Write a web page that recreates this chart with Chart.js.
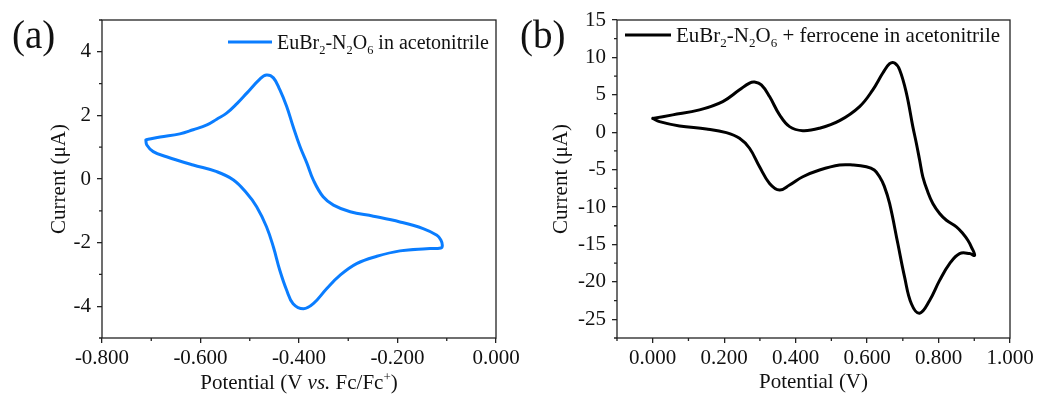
<!DOCTYPE html>
<html>
<head>
<meta charset="utf-8">
<script src="https://cdn.jsdelivr.net/npm/chart.js@4.4.1/dist/chart.umd.min.js"></script>
<style>
  html, body { margin: 0; padding: 0; background: #fff; }
  #wrap { position: relative; width: 1039px; height: 399px; overflow: hidden; font-family: "Liberation Serif", "Times New Roman", serif; }
  .panel { position: absolute; top: 0; height: 399px; }
  #pa { left: 0; width: 530px; }
  #pb { left: 515px; width: 524px; }
  .tag { position: absolute; top: 15px; font-size: 39px; line-height: 1; color: #111; }
</style>
</head>
<body>
<div id="wrap">
  <div class="panel" id="pa"><canvas id="chartA" width="530" height="399"></canvas></div>
  <div class="panel" id="pb"><canvas id="chartB" width="524" height="399"></canvas></div>
  <div class="tag" style="left:12px">(a)</div>
  <div class="tag" style="left:520px">(b)</div>
</div>
<script>
// panel (a): EuBr2-N2O6 in acetonitrile, potential vs Fc/Fc+
const aPotential = [
  -0.711, -0.682, -0.642, -0.615, -0.587, -0.567, -0.547, -0.526, -0.506, -0.479,
  -0.466, -0.452, -0.439, -0.425, -0.412, -0.398, -0.384, -0.371, -0.351, -0.330,
  -0.296, -0.249, -0.195, -0.148, -0.120, -0.112, -0.109, -0.112, -0.141, -0.195,
  -0.242, -0.283, -0.317, -0.344, -0.371, -0.391, -0.412, -0.425, -0.439, -0.452,
  -0.466, -0.486, -0.506, -0.533, -0.567, -0.615, -0.669, -0.696, -0.709, -0.711
];
const aCurrent = [
  1.23, 1.32, 1.42, 1.55, 1.70, 1.88, 2.07, 2.37, 2.70, 3.15,
  3.27, 3.18, 2.81, 2.28, 1.65, 1.02, 0.50, -0.03, -0.56, -0.82,
  -1.03, -1.17, -1.35, -1.56, -1.77, -1.92, -2.08, -2.17, -2.19, -2.26,
  -2.43, -2.66, -3.03, -3.45, -3.92, -4.08, -3.92, -3.50, -2.87, -2.14,
  -1.50, -0.87, -0.45, -0.03, 0.23, 0.44, 0.70, 0.86, 1.07, 1.23
];
const aXTicks = [-0.8, -0.6, -0.4, -0.2, 0];
const aYTicks = [-4, -2, 0, 2, 4];

// panel (b): EuBr2-N2O6 + ferrocene in acetonitrile
const bPotential = [
  0.000, 0.056, 0.131, 0.196, 0.243, 0.271, 0.285, 0.304, 0.327, 0.355,
  0.383, 0.420, 0.467, 0.523, 0.579, 0.616, 0.644, 0.663, 0.677, 0.691,
  0.710, 0.728, 0.738, 0.747, 0.756, 0.770, 0.784, 0.803, 0.822, 0.850,
  0.868, 0.882, 0.892, 0.901, 0.887, 0.859, 0.831, 0.803, 0.775, 0.747,
  0.724, 0.705, 0.686, 0.663, 0.648, 0.635, 0.620, 0.598, 0.560, 0.523,
  0.467, 0.420, 0.383, 0.355, 0.327, 0.299, 0.271, 0.243, 0.206, 0.150,
  0.075, 0.019, 0.000
];
const bCurrent = [
  1.85, 2.32, 2.99, 4.10, 5.67, 6.57, 6.70, 6.34, 4.77, 2.32,
  0.75, 0.21, 0.54, 1.55, 3.43, 5.67, 7.91, 9.16, 9.25, 8.35,
  5.23, 0.75, -1.50, -3.71, -5.95, -8.00, -9.52, -10.86, -11.76, -12.65,
  -13.54, -14.44, -15.34, -16.45, -16.22, -16.22, -17.56, -19.80, -22.48, -24.18,
  -22.92, -19.36, -14.88, -9.52, -7.20, -5.95, -5.05, -4.61, -4.38, -4.38,
  -5.05, -5.95, -7.06, -7.73, -6.84, -4.61, -2.14, -0.80, -0.05, 0.44,
  0.84, 1.42, 1.85
];
const bXTicks = [0, 0.2, 0.4, 0.6, 0.8, 1.0];
const bYTicks = [-25, -20, -15, -10, -5, 0, 5, 10, 15];

const FONT = "'Liberation Serif', 'Times New Roman', serif";
Chart.defaults.font.family = FONT;
Chart.defaults.color = "#111";

const isMajor = (v, list) => list.some((t) => Math.abs(t - v) < 1e-6);

function drawRich(ctx, segs, x, y, size, align) {
  const fontFor = (s) =>
    (s.it ? "italic " : "") + (s.sub || s.sup ? size * 0.62 : size) + "px " + FONT;
  let w = 0;
  segs.forEach((s) => {
    ctx.font = fontFor(s);
    w += ctx.measureText(s.t).width;
  });
  let cx = align === "center" ? x - w / 2 : x;
  ctx.textAlign = "left";
  ctx.textBaseline = "alphabetic";
  segs.forEach((s) => {
    ctx.font = fontFor(s);
    const dy = s.sub ? size * 0.27 : s.sup ? -size * 0.4 : 0;
    ctx.fillText(s.t, cx, y + dy);
    cx += ctx.measureText(s.t).width;
  });
}

// box round the plot and the short minor ticks
const framePlugin = {
  id: "frame",
  afterDraw(chart) {
    const { ctx, chartArea: a } = chart;
    const xs = chart.scales.x;
    const ys = chart.scales.y;
    ctx.save();
    ctx.strokeStyle = "#222";
    ctx.lineWidth = 1.3;
    ctx.strokeRect(a.left, a.top, a.right - a.left, a.bottom - a.top);
    ctx.beginPath();
    xs.ticks.forEach((t) => {
      if (t.label !== "") return;
      const p = xs.getPixelForValue(t.value);
      ctx.moveTo(p, a.bottom);
      ctx.lineTo(p, a.bottom + 3);
    });
    ys.ticks.forEach((t) => {
      if (t.label !== "") return;
      const p = ys.getPixelForValue(t.value);
      ctx.moveTo(a.left, p);
      ctx.lineTo(a.left - 3, p);
    });
    ctx.stroke();
    ctx.restore();
  },
};

function textPlugin(legend, xTitle) {
  return {
    id: "texts",
    afterDraw(chart) {
      const { ctx, chartArea: a } = chart;
      ctx.save();
      ctx.fillStyle = "#111";
      // legend
      ctx.strokeStyle = legend.color;
      ctx.lineWidth = 3;
      ctx.beginPath();
      ctx.moveTo(legend.x, legend.y);
      ctx.lineTo(legend.x + legend.len, legend.y);
      ctx.stroke();
      drawRich(ctx, legend.segs, legend.x + legend.len + 5, legend.y + 6.5, legend.size, "left");
      // x axis title
      drawRich(ctx, xTitle.segs, (a.left + a.right) / 2, xTitle.y, 21, "center");
      ctx.restore();
    },
  };
}

function makeChart(el, cfg) {
  const points = cfg.xs.map((x, i) => ({ x: x, y: cfg.ys[i] }));
  return new Chart(el, {
    type: "scatter",
    data: {
      datasets: [
        {
          label: cfg.label,
          data: points,
          showLine: true,
          borderColor: cfg.color,
          borderWidth: 3,
          borderJoinStyle: "round",
          borderCapStyle: "round",
          pointRadius: 0,
          tension: 0.4,
          fill: false,
        },
      ],
    },
    options: {
      responsive: false,
      animation: false,
      layout: { padding: { top: 20, right: cfg.padRight, bottom: 0, left: 0 } },
      plugins: {
        legend: { display: false },
        tooltip: { enabled: false },
      },
      scales: {
        x: {
          type: "linear",
          min: cfg.xMin,
          max: cfg.xMax,
          afterFit: (s) => {
            s.height = 61;
          },
          border: { display: false },
          grid: {
            drawOnChartArea: false,
            tickLength: 5,
            lineWidth: 1.3,
            tickColor: (c) => (c.tick && isMajor(c.tick.value, cfg.xTicks) ? "#222" : "rgba(0,0,0,0)"),
          },
          ticks: {
            stepSize: cfg.xStep,
            autoSkip: false,
            maxRotation: 0,
            padding: 3,
            color: "#111",
            font: { size: 21 },
            callback: (v) => (isMajor(v, cfg.xTicks) ? v.toFixed(3) : ""),
          },
        },
        y: {
          type: "linear",
          min: cfg.yMin,
          max: cfg.yMax,
          afterFit: (s) => {
            s.width = 102;
          },
          border: { display: false },
          grid: {
            drawOnChartArea: false,
            tickLength: 5,
            lineWidth: 1.3,
            tickColor: (c) => (c.tick && isMajor(c.tick.value, cfg.yTicks) ? "#222" : "rgba(0,0,0,0)"),
          },
          ticks: {
            stepSize: cfg.yStep,
            autoSkip: false,
            padding: 6,
            color: "#111",
            font: { size: 21 },
            callback: (v) => (isMajor(v, cfg.yTicks) ? String(v) : ""),
          },
          title: {
            display: true,
            text: "Current (μA)",
            color: "#111",
            font: { size: 21 },
            padding: { top: cfg.yTitlePad, bottom: 0 },
          },
        },
      },
    },
    plugins: [framePlugin, textPlugin(cfg.legend, cfg.xTitle)],
  });
}

makeChart(document.getElementById("chartA"), {
  label: "EuBr2-N2O6 in acetonitrile",
  xs: aPotential,
  ys: aCurrent,
  color: "#0a7dff",
  xMin: -0.8,
  xMax: 0,
  xStep: 0.1,
  xTicks: aXTicks,
  yMin: -5,
  yMax: 5,
  yStep: 1,
  yTicks: aYTicks,
  padRight: 34,
  yTitlePad: 47,
  legend: {
    x: 228,
    y: 42,
    len: 44,
    size: 20,
    color: "#0a7dff",
    segs: [
      { t: "EuBr" }, { t: "2", sub: true }, { t: "-N" }, { t: "2", sub: true },
      { t: "O" }, { t: "6", sub: true }, { t: " in acetonitrile" },
    ],
  },
  xTitle: {
    y: 389,
    segs: [
      { t: "Potential (V " }, { t: "vs.", it: true }, { t: " Fc/Fc" },
      { t: "+", sup: true }, { t: ")" },
    ],
  },
});

makeChart(document.getElementById("chartB"), {
  label: "EuBr2-N2O6 + ferrocene in acetonitrile",
  xs: bPotential,
  ys: bCurrent,
  color: "#000",
  xMin: -0.1,
  xMax: 1.0,
  xStep: 0.1,
  xTicks: bXTicks,
  yMin: -27.5,
  yMax: 15,
  yStep: 2.5,
  yTicks: bYTicks,
  padRight: 29,
  yTitlePad: 34,
  legend: {
    x: 110,
    y: 35,
    len: 46,
    size: 21,
    color: "#000",
    segs: [
      { t: "EuBr" }, { t: "2", sub: true }, { t: "-N" }, { t: "2", sub: true },
      { t: "O" }, { t: "6", sub: true }, { t: " + ferrocene in acetonitrile" },
    ],
  },
  xTitle: {
    y: 388,
    segs: [{ t: "Potential (V)" }],
  },
});
</script>
</body>
</html>
